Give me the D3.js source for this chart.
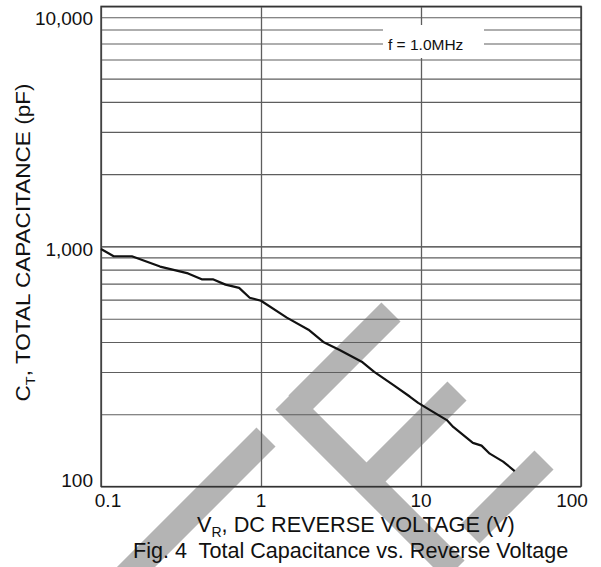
<!DOCTYPE html>
<html><head><meta charset="utf-8">
<script src="https://cdn.jsdelivr.net/npm/d3@7"></script>
<style>
body{margin:0;background:#fff}
svg{display:block}
text{font-family:"Liberation Sans",Arial,Helvetica,sans-serif;fill:#111;white-space:pre}
</style>
</head><body>
<svg id="c" width="601" height="567"></svg>
<script>
// ---- data ----
const voltage = [0.1, 0.12, 0.156, 0.234, 0.35, 0.426, 0.5, 0.6, 0.73, 0.85, 1.0, 1.45, 1.98, 2.45, 3.1, 4.26, 5.1, 6.7, 8.5, 9.6, 11.4, 14.5, 15.9, 21.1, 23.9, 26.9, 32.6, 38.5];
const capacitance = [975, 910, 910, 824, 772, 729, 729, 693, 672, 611, 594, 505, 450, 400, 370, 331, 300, 265, 237, 223, 208, 189, 177, 152, 148, 137, 127, 116];
const xTicks = [0.1, 1, 10, 100];
const xTickLabels = ["0.1", "1", "10", "100"];
const yTicks = [100, 1000, 10000];
const yTickLabels = ["100", "1,000", "10,000"];
const yMinorGrid = [200, 300, 400, 500, 600, 700, 800, 900, 2000, 3000, 4000, 5000, 6000, 7000, 8000, 9000];
const xLabelMain = "V";
const xLabelSub = "R";
const xLabelRest = ", DC REVERSE VOLTAGE (V)";
const yLabelMain = "C";
const yLabelSub = "T";
const yLabelRest = ", TOTAL CAPACITANCE (pF)";
const caption = "Fig. 4  Total Capacitance vs. Reverse Voltage";
const noteText = "f = 1.0MHz";

// ---- layout ----
const L = 101, R = 581, T = 6.3, B = 486.5;
const svg = d3.select("#c");
const x = d3.scaleLog().domain([0.1, 100]).range([L, R]);
const y = d3.scaleLog().domain([100, 10000]).range([B, T]);

svg.append("rect").attr("width", 601).attr("height", 567).attr("fill", "#fff");

// watermark (decorative diagonal stripes)
const watermarkStripes = [
  [266, 437, 110, 593],
  [391, 312, 298, 405],
  [285, 400, 455, 570],
  [457, 391, 366, 482],
  [544, 460, 470, 534]
];
svg.append("g").selectAll("line").data(watermarkStripes).join("line")
  .attr("x1", d => d[0]).attr("y1", d => d[1]).attr("x2", d => d[2]).attr("y2", d => d[3])
  .attr("stroke", "#b4b4b4").attr("stroke-width", 27).attr("stroke-linecap", "butt");

// horizontal minor grid via axis
const gy = svg.append("g").attr("transform", `translate(${L},0)`)
  .call(d3.axisLeft(y).tickValues(yMinorGrid).tickSize(-(R - L)).tickFormat(""));
gy.select(".domain").remove();
gy.selectAll("line").attr("stroke", "#5e5e5e").attr("stroke-width", 1.1);

// horizontal major grid
const gy2 = svg.append("g").attr("transform", `translate(${L},0)`)
  .call(d3.axisLeft(y).tickValues(yTicks).tickSize(-(R - L)).tickFormat(""));
gy2.select(".domain").remove();
gy2.selectAll("line").attr("stroke", "#333").attr("stroke-width", 1.2);

// vertical decade grid
const gx = svg.append("g").attr("transform", `translate(0,${B})`)
  .call(d3.axisBottom(x).tickValues(xTicks).tickSize(-(B - T)).tickFormat(""));
gx.select(".domain").remove();
gx.selectAll("line").attr("stroke", "#5e5e5e").attr("stroke-width", 1.3);

// border
svg.append("rect").attr("x", L).attr("y", T).attr("width", R - L).attr("height", B - T)
  .attr("fill", "none").attr("stroke", "#333").attr("stroke-width", 1.3);

// curve
const pts = voltage.map((v, i) => [v, capacitance[i]]);
svg.append("path").datum(pts)
  .attr("d", d3.line().x(d => x(d[0])).y(d => y(d[1])))
  .attr("fill", "none").attr("stroke", "#111").attr("stroke-width", 2.2)
  .attr("stroke-linejoin", "round");

// note box
svg.append("rect").attr("x", 383).attr("y", 25).attr("width", 101).attr("height", 33).attr("fill", "#fff");
svg.append("text").attr("x", 388).attr("y", 50).attr("font-size", 15.5).text(noteText);

// x tick labels
svg.append("g").selectAll("text").data(xTicks).join("text")
  .attr("x", d => Math.max(108, Math.min(572, x(d))))
  .attr("y", 506.5).attr("text-anchor", "middle").attr("font-size", 19)
  .text((d, i) => xTickLabels[i]);

// y tick labels
svg.append("g").selectAll("text").data(yTicks).join("text")
  .attr("x", 93)
  .attr("y", d => Math.max(25, Math.min(487, y(d) + 9.6)))
  .attr("text-anchor", "end").attr("font-size", 19)
  .text((d, i) => yTickLabels[i]);

// x axis label
const xl = svg.append("text").attr("x", 197).attr("y", 531.5).attr("font-size", 21.7);
xl.append("tspan").text(xLabelMain);
xl.append("tspan").attr("font-size", 14).attr("dy", 5).text(xLabelSub);
xl.append("tspan").attr("dy", -5).text(xLabelRest);

// y axis label
const yl = svg.append("text").attr("transform", "translate(30,242.5) rotate(-90)")
  .attr("text-anchor", "middle").attr("font-size", 20)
  .attr("textLength", 318).attr("lengthAdjust", "spacingAndGlyphs");
yl.append("tspan").text(yLabelMain);
yl.append("tspan").attr("font-size", 13).attr("dy", 5).text(yLabelSub);
yl.append("tspan").attr("dy", -5).text(yLabelRest);

// caption
svg.append("text").attr("x", 133).attr("y", 558).attr("font-size", 21.6).text(caption);
</script>
</body></html>
